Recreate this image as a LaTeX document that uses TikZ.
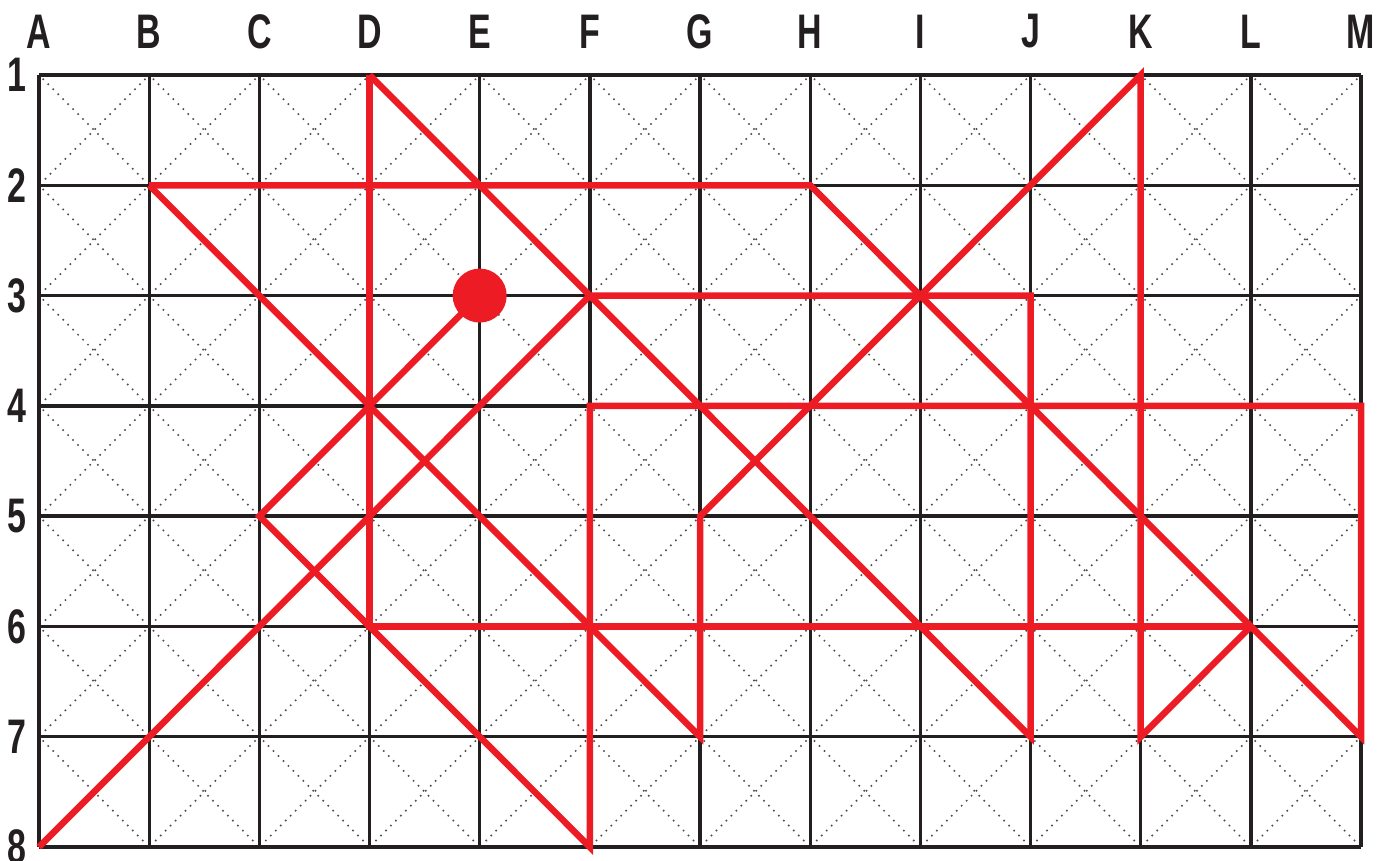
\documentclass[tikz,border=0pt]{standalone}
\usepackage{fontspec}
\setmainfont{Liberation Sans}[FakeStretch=0.7]
\definecolor{routered}{HTML}{ED1C24}
\definecolor{inkblack}{HTML}{231F20}
\tikzset{gridline/.style={draw=inkblack,line width=0.95pt},cellx/.style={draw=inkblack!80,line width=0.45pt,dash pattern=on 0.45pt off 1.55pt,shorten <=1.5pt,shorten >=1.5pt},route/.style={draw=routered,line width=1.85pt},gridlabel/.style={font=\bfseries\fontsize{13.8}{16}\selectfont,inner sep=0pt,text=inkblack}}

\begin{document}
\begin{tikzpicture}
\useasboundingbox (0,0) rectangle (13.78,-8.61);
% grid points A1 ... M8
\foreach \c [count=\i from 0] in {A,B,C,D,E,F,G,H,I,J,K,L,M}
  \foreach \r in {1,...,8}
    \coordinate (\c\r) at ({0.39+1.1017*\i},{-0.75-1.1029*(\r-1)});
% dotted crosses in the cells
\foreach \c/\n in {A/B,B/C,C/D,D/E,E/F,F/G,G/H,H/I,I/J,J/K,K/L,L/M}
  \foreach \r/\s in {1/2,2/3,3/4,4/5,5/6,6/7,7/8} {
    \draw[cellx] (\c\r) -- (\n\s);
    \draw[cellx] (\n\r) -- (\c\s);
  }
% grid
\foreach \c in {A,B,C,D,E,F,G,H,I,J,K,L,M}
  \draw[gridline] (\c1) -- (\c8);
\foreach \r in {1,...,8}
  \draw[gridline] (A\r) -- (M\r);
% labels
\foreach \c in {A,B,C,D,E,F,G,H,I,J,K,L,M}
  \node[gridlabel, yshift=4.35mm] (col\c) at (\c1) {\c};
\foreach \r in {1,...,8}
  \node[gridlabel, xshift=-2.2mm] (row\r) at (A\r) {\r};
% red route
\draw[route] (D1) -- (D6) -- (L6);
\draw[route] (D1) -- (J7) -- (J3) -- (F3) -- (A8);
\draw[route] (B2) -- (H2) -- (M7) -- (M4) -- (F4) -- (F8) -- (C5) -- (E3);
\draw[route] (B2) -- (G7) -- (G5) -- (K1) -- (K7) -- (L6);
\fill[routered] (E3) circle (0.27);
\end{tikzpicture}
\end{document}
